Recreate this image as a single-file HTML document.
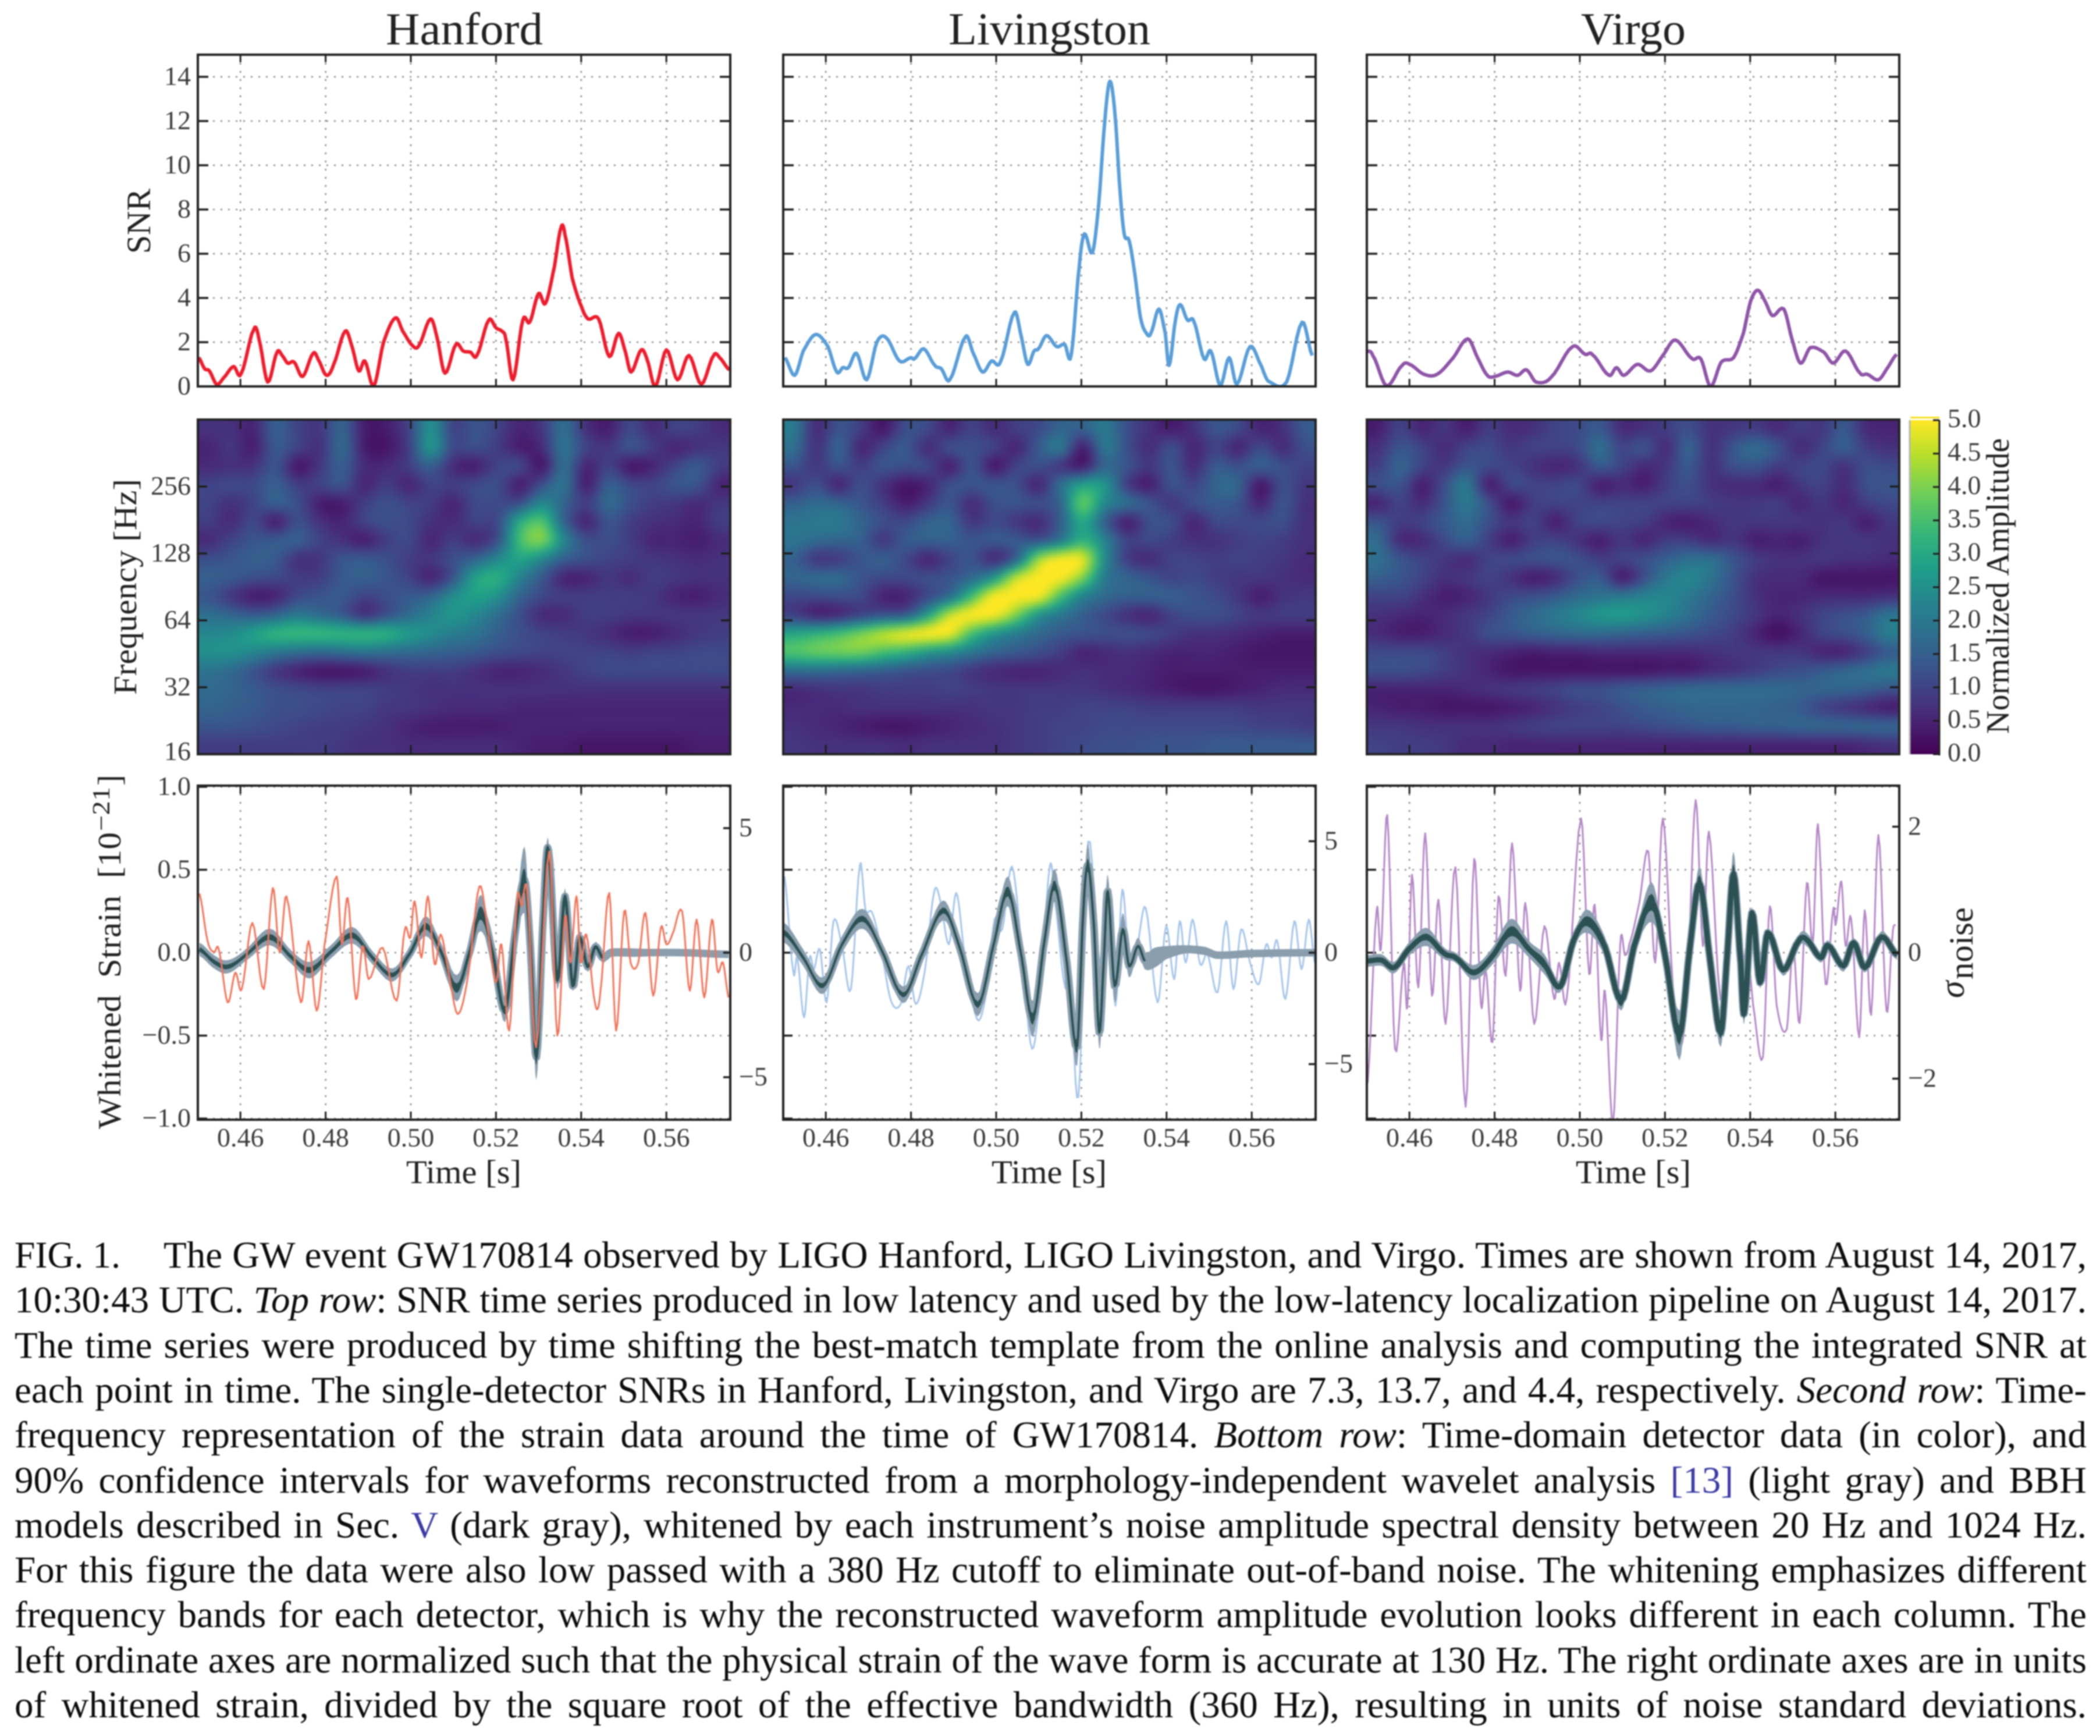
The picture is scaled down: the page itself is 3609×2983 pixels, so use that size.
<!DOCTYPE html>
<html lang="en">
<head>
<meta charset="utf-8">
<title>FIG. 1 GW170814</title>
<style>
html,body{margin:0;padding:0;background:#fff;}
svg{display:block;filter:blur(1px);}
text{font-family:"Liberation Serif","DejaVu Serif",serif;fill:#222;}
.cap{font-size:65px;fill:#0c0c0c;}
.tick{font-size:46px;fill:#3c3c3c;}
</style>
</head>
<body>
<svg id="figure" xmlns="http://www.w3.org/2000/svg" width="3609" height="2983" viewBox="0 0 3609 2983">
<defs>
<filter id="heat-blur" filterUnits="userSpaceOnUse" x="200" y="600" width="3200" height="800" color-interpolation-filters="sRGB"><feGaussianBlur stdDeviation="7 6"/></filter>
<linearGradient id="viridis-grad" x1="0" y1="1" x2="0" y2="0"></linearGradient>
</defs>
<rect x="0" y="0" width="3609" height="2983" fill="#fff"/>

<text x="663" y="76" font-size="78" textLength="270" lengthAdjust="spacingAndGlyphs">Hanford</text>
<text x="1630" y="76" font-size="78" textLength="347" lengthAdjust="spacingAndGlyphs">Livingston</text>
<text x="2717" y="76" font-size="78" textLength="180" lengthAdjust="spacingAndGlyphs">Virgo</text>

<text transform="translate(258,436) rotate(-90)" font-size="58" textLength="112" lengthAdjust="spacingAndGlyphs">SNR</text>
<text transform="translate(234,1194) rotate(-90)" font-size="56" textLength="371" lengthAdjust="spacingAndGlyphs">Frequency [Hz]</text>
<text transform="translate(207,1940) rotate(-90)" font-size="56" textLength="510" lengthAdjust="spacingAndGlyphs" style="word-spacing:14px">Whitened Strain [10</text>
<text transform="translate(188,1428) rotate(-90)" font-size="42" textLength="76" lengthAdjust="spacingAndGlyphs">−21</text>
<text transform="translate(207,1350) rotate(-90)" font-size="56">]</text>
<text transform="translate(3375,1715) rotate(-90)" font-size="60" font-style="italic">σ</text>
<text transform="translate(3390,1683) rotate(-90)" font-size="58" textLength="124" lengthAdjust="spacingAndGlyphs">noise</text>
<text transform="translate(3452,1261) rotate(-90)" font-size="56" textLength="508" lengthAdjust="spacingAndGlyphs">Normalized Amplitude</text>

<text x="698" y="2033" font-size="57" textLength="198" lengthAdjust="spacingAndGlyphs">Time [s]</text>
<text x="1704" y="2033" font-size="57" textLength="198" lengthAdjust="spacingAndGlyphs">Time [s]</text>
<text x="2708" y="2033" font-size="57" textLength="198" lengthAdjust="spacingAndGlyphs">Time [s]</text>

<g id="plots"></g>

<g>
<text class="cap" x="25" y="2178" textLength="182" lengthAdjust="spacingAndGlyphs">FIG. 1.</text>
<text class="cap just" x="281" y="2178" data-end="3586">The GW event GW170814 observed by LIGO Hanford, LIGO Livingston, and Virgo. Times are shown from August 14, 2017,</text>
<text class="cap just" x="25" y="2255" data-end="3586">10:30:43 UTC. <tspan font-style="italic">Top row</tspan>: SNR time series produced in low latency and used by the low-latency localization pipeline on August 14, 2017.</text>
<text class="cap just" x="25" y="2333" data-end="3586">The time series were produced by time shifting the best-match template from the online analysis and computing the integrated SNR at</text>
<text class="cap just" x="25" y="2410" data-end="3586">each point in time. The single-detector SNRs in Hanford, Livingston, and Virgo are 7.3, 13.7, and 4.4, respectively. <tspan font-style="italic">Second row</tspan>: Time-</text>
<text class="cap just" x="25" y="2487" data-end="3586">frequency representation of the strain data around the time of GW170814. <tspan font-style="italic">Bottom row</tspan>: Time-domain detector data (in color), and</text>
<text class="cap just" x="25" y="2565" data-end="3586">90% confidence intervals for waveforms reconstructed from a morphology-independent wavelet analysis <tspan fill="#3b3aa3">[13]</tspan> (light gray) and BBH</text>
<text class="cap just" x="25" y="2642" data-end="3586">models described in Sec. <tspan fill="#3b3aa3">V</tspan> (dark gray), whitened by each instrument’s noise amplitude spectral density between 20 Hz and 1024 Hz.</text>
<text class="cap just" x="25" y="2719" data-end="3586">For this figure the data were also low passed with a 380 Hz cutoff to eliminate out-of-band noise. The whitening emphasizes different</text>
<text class="cap just" x="25" y="2796" data-end="3586">frequency bands for each detector, which is why the reconstructed waveform amplitude evolution looks different in each column. The</text>
<text class="cap just" x="25" y="2874" data-end="3586">left ordinate axes are normalized such that the physical strain of the wave form is accurate at 130 Hz. The right ordinate axes are in units</text>
<text class="cap just" x="25" y="2951" data-end="3586">of whitened strain, divided by the square root of the effective bandwidth (360 Hz), resulting in units of noise standard deviations.</text>
</g>
</svg>

<script>
/* ---------- tick labels ---------- */
const timeTicks = [0.46, 0.48, 0.50, 0.52, 0.54, 0.56];
const timeTickLabels = ["0.46", "0.48", "0.50", "0.52", "0.54", "0.56"];
const snrTicks = [0, 2, 4, 6, 8, 10, 12, 14];
const freqTicks = [16, 32, 64, 128, 256];
const strainTicks = [-1, -0.5, 0, 0.5, 1];
const strainTickLabels = ["−1.0", "−0.5", "0.0", "0.5", "1.0"];
const hanfordNoiseTicks = [-5, 0, 5];
const livingstonNoiseTicks = [-5, 0, 5];
const virgoNoiseTicks = [-2, 0, 2];
const colorbarTicks = [0, 0.5, 1, 1.5, 2, 2.5, 3, 3.5, 4, 4.5, 5];
const colorbarTickLabels = ["0.0", "0.5", "1.0", "1.5", "2.0", "2.5", "3.0", "3.5", "4.0", "4.5", "5.0"];

/* ---------- SNR series ---------- */
const hanfordSnrTime = [.4502,.4516,.4527,.4544,.4561,.4584,.4601,.4632,.4644,.4664,.4686,.4698,.4711,.4726,.4746,.4771,.4783,.4802,.4819,.4846,.4862,.4878,.4892,.4913,.4936,.4964,.4981,.5004,.5019,.5046,.5061,.5080,.5106,.5123,.5140,.5155,.5183,.5200,.5214,.5223,.5240,.5263,.5279,.5300,.5316,.5337,.5353,.5362,.5379,.5401,.5416,.5441,.5466,.5488,.5504,.5517,.5541,.5555,.5574,.5600,.5626,.5653,.5682,.5711,.5725,.5748];
const hanfordSnr = [1.3,.8,.7,.1,.4,.9,.55,2.6,2.1,.2,1.55,1.4,1.05,1.1,.45,1.5,1.2,.5,1.0,2.5,1.8,.7,1.15,.02,2.0,3.1,2.5,1.85,1.85,3.05,2.25,.6,1.9,1.6,1.55,1.4,3.0,2.65,2.5,2.15,.3,3.0,2.9,4.2,3.75,5.4,7.2,6.85,4.9,3.6,3.05,3.05,1.35,2.4,1.55,.65,1.65,1.2,0,1.65,.3,1.4,.1,1.4,1.3,.75];
const livingstonSnrTime = [.4504,.4527,.4547,.4576,.4605,.4626,.4640,.4653,.4672,.4696,.4720,.4742,.4773,.4800,.4808,.4830,.4856,.4871,.4891,.4928,.4945,.4968,.4989,.5010,.5043,.5059,.5074,.5089,.5099,.5118,.5142,.5161,.5176,.5195,.5207,.5226,.5241,.5255,.5267,.5279,.5291,.5301,.5312,.5325,.5339,.5353,.5363,.5382,.5397,.5406,.5421,.5432,.5449,.5464,.5488,.5504,.5526,.5547,.5565,.5596,.5622,.5638,.5682,.5718,.5742];
const livingstonSnr = [1.3,.5,1.6,2.35,1.8,.65,.85,.85,1.5,.3,2.0,2.2,1.15,1.3,1.25,1.7,.95,.8,.3,2.25,1.55,.65,1.15,1.1,3.35,2.25,1.0,1.6,1.7,2.3,1.8,1.9,1.4,5.4,6.9,6.05,8.3,12.0,13.8,12.3,8.8,6.85,6.6,5.15,3.1,2.4,2.4,3.5,2.4,.95,3.0,3.7,3.0,2.95,1.25,1.6,.05,1.3,.1,1.8,.95,.25,.2,2.9,1.4];
const virgoSnrTime = [.4500,.4514,.4546,.4583,.4600,.4634,.4665,.4703,.4737,.4760,.4783,.4800,.4831,.4854,.4875,.4897,.4932,.4983,.5013,.5029,.5069,.5086,.5103,.5135,.5166,.5195,.5224,.5264,.5284,.5307,.5332,.5361,.5384,.5401,.5418,.5435,.5452,.5479,.5498,.5518,.5541,.5573,.5595,.5624,.5658,.5675,.5701,.5721,.5744];
const virgoSnr = [1.6,1.4,.03,.95,1.0,.55,.55,1.3,2.15,1.3,.5,.45,.65,.5,.75,.2,.4,1.8,1.45,1.45,.5,.85,.5,1.0,.7,1.4,2.1,1.25,1.25,0,1.1,1.3,2.4,3.85,4.35,3.85,3.2,3.5,2.15,1.05,1.75,1.55,1.05,1.6,.6,.55,.3,.8,1.45];

/* ---------- spectrogram amplitudes (rows: high to low frequency) ---------- */
const hanfordAmplitude = [
[.7,.7,.5,1.5,1.0,.8,1.6,.4,.4,1.0,2.5,1.0,1.3,1.0,.5,.8,1.8,.7,.4,1.1,.6,1.0,.9,.6],
[.5,.8,.4,1.4,1.0,.7,1.7,.4,.3,.9,2.6,1.1,1.2,.9,.4,.6,1.9,1.0,.8,1.3,.9,.5,.7,.8],
[.6,.7,.7,1.3,.3,.8,1.5,.6,.6,.9,1.5,.6,.4,1.0,1.1,.3,1.8,.5,1.0,.3,.5,1.0,1.4,.9],
[1.0,1.1,1.1,1.5,.9,1.0,1.3,.5,.9,.5,1.0,.9,1.1,1.2,.4,1.2,1.9,.4,1.5,1.1,1.0,1.3,1.3,.5],
[1.0,.7,1.0,1.5,1.2,.4,.4,.9,1.2,1.0,.9,.5,1.1,1.1,1.2,2.3,1.6,.9,1.7,1.2,.9,.8,.6,.8],
[.9,.6,1.1,.4,1.2,.7,.5,1.0,1.2,1.1,.7,.6,1.0,1.1,3.0,3.6,1.6,.5,1.3,.9,.7,.6,.5,.9],
[.6,1.0,1.3,1.4,1.5,1.0,.7,.4,.9,1.1,.5,.9,.6,1.2,3.4,4.0,2.3,1.2,1.2,.9,.5,.5,.4,.6],
[1.2,1.3,1.5,1.4,.7,.8,1.3,1.4,1.2,.9,.8,1.2,1.6,2.3,2.9,2.3,1.5,1.2,1.0,.9,.8,.7,.6,.7],
[1.5,1.4,1.2,1.1,.9,.9,1.4,1.5,1.3,1.0,.5,1.3,2.8,3.1,2.2,1.4,.5,.5,.8,.6,.9,.8,.7,.7],
[1.3,.8,.4,.5,1.1,1.3,1.4,1.0,1.2,1.4,1.6,2.4,2.8,2.5,1.6,1.1,.9,.9,.9,.9,.8,.5,.4,.6],
[1.8,1.6,1.4,1.6,2.0,1.7,1.4,.7,1.2,1.7,2.2,2.6,2.3,1.8,1.2,.6,.6,.9,.9,.8,.8,.8,.8,.8],
[2.3,2.4,2.8,3.2,3.3,3.3,3.2,3.2,3.1,2.7,2.4,2.1,1.9,1.5,1.2,1.0,.9,.8,.6,.4,.4,.6,.8,.9],
[2.5,2.5,2.3,2.0,1.8,1.7,1.8,1.9,1.8,1.7,1.6,1.5,1.4,1.2,1.1,1.0,1.0,1.0,1.0,.9,1.0,1.0,1.1,1.1],
[1.9,1.7,1.3,.8,.5,.3,.3,.4,.7,.9,.9,.9,.7,.5,.5,.6,.8,1.0,1.1,1.1,1.1,1.1,1.1,1.1],
[1.7,1.6,1.4,1.2,1.1,1.0,1.0,1.0,.9,.8,.7,.7,.7,.7,.7,.7,.7,.7,.7,.7,.7,.7,.7,.7],
[1.6,1.5,1.4,1.2,1.2,1.1,1.0,1.0,.8,.8,.7,.6,.6,.6,.5,.5,.5,.5,.5,.5,.5,.5,.5,.5],
[1.3,1.3,1.2,1.1,1.0,.9,.9,.8,.7,.5,.4,.4,.4,.4,.5,.5,.5,.5,.5,.5,.5,.5,.5,.5],
[.9,.9,.9,.9,.9,.9,.8,.7,.7,.6,.6,.6,.6,.6,.5,.4,.4,.3,.3,.3,.3,.3,.4,.4]
];
const livingstonAmplitude = [
[2.0,.6,1.3,.9,.3,1.2,1.1,.5,1.0,.6,.9,1.1,1.6,1.5,2.0,1.2,.7,.4,.7,1.3,1.1,.5,.7,1.4],
[1.8,.7,1.6,.5,1.0,1.4,.6,1.2,1.2,1.0,.5,1.4,2.0,.4,2.0,1.2,.6,1.2,.5,1.0,.5,1.1,.6,1.2],
[1.3,.8,1.3,.9,1.3,1.2,1.1,.4,1.3,.3,1.0,1.2,.8,.4,1.6,1.3,.8,1.3,.6,1.4,1.2,1.5,1.2,1.0],
[.8,1.2,.5,1.2,.7,.3,.5,1.2,1.3,1.3,1.2,.5,1.8,2.8,2.6,.9,.4,1.3,1.0,1.6,1.6,.3,1.2,.8],
[1.5,1.7,1.6,1.3,.9,.4,.8,1.3,.6,1.2,1.3,1.2,1.6,3.8,2.3,1.8,1.3,.8,1.2,1.4,1.3,.5,1.3,.7],
[1.9,2.0,2.0,1.6,1.2,1.1,1.5,1.6,.8,1.1,.8,.6,1.5,3.0,1.5,.4,1.2,1.2,.5,1.1,1.1,1.1,1.2,.7],
[1.9,1.7,1.6,1.5,.8,1.4,1.5,1.5,1.3,1.4,1.4,1.3,2.0,3.2,2.2,1.0,1.1,.9,.7,.7,.9,1.0,.9,.7],
[1.5,.8,.9,1.3,1.5,1.1,.5,1.0,1.3,.6,1.6,4.2,5.0,4.8,2.4,.9,.6,1.0,1.0,.9,1.0,.9,.8,.6],
[1.6,1.7,1.7,1.3,1.1,1.1,1.2,1.3,1.7,2.6,4.5,5.0,5.0,4.0,2.0,1.6,1.3,1.0,1.1,.9,.8,.8,.7,.6],
[1.1,1.1,1.2,1.1,.5,.5,1.1,1.8,3.4,5.0,5.0,5.0,3.5,2.2,1.7,1.5,1.5,1.5,1.3,1.1,.8,.4,.7,.8],
[.9,.5,.6,1.0,1.3,1.4,2.7,4.5,5.0,5.0,4.0,2.6,2.0,1.5,1.1,.7,.5,1.0,1.2,1.2,1.0,.8,.9,.9],
[2.9,3.1,3.4,3.9,4.4,4.8,5.0,4.9,3.5,2.6,2.1,1.7,1.4,1.3,1.2,1.2,1.1,.9,.7,.7,.6,.5,.4,.4],
[3.6,3.8,3.9,3.9,3.5,3.2,2.7,2.4,2.0,1.6,1.4,1.2,.9,.5,.6,.7,.6,.5,.5,.5,.4,.3,.3,.3],
[1.8,1.8,1.7,1.6,1.5,1.3,1.2,1.1,.8,.6,.5,.5,.6,.7,.6,.6,.5,.4,.4,.4,.4,.4,.4,.4],
[.6,.7,.8,.8,.9,.9,.9,1.0,.9,.8,.8,.8,.8,.8,.7,.6,.5,.4,.3,.3,.4,.5,.6,.6],
[.6,.6,.6,.7,.7,.7,.7,.7,.7,.8,.8,.9,.9,1.0,1.0,1.0,.9,.9,.9,.9,.9,.8,.8,.8],
[.7,.6,.5,.4,.3,.3,.4,.5,.6,.7,.8,.9,1.0,1.0,1.1,1.1,1.1,1.1,1.1,1.1,1.1,1.0,1.0,.9],
[.8,.7,.7,.7,.7,.6,.7,.7,.7,.7,.8,.9,1.0,1.1,1.2,1.2,1.3,1.3,1.3,1.4,1.4,1.4,1.4,1.4]
];
const virgoAmplitude = [
[.4,1.0,.5,.8,.4,.9,.6,.7,1.0,1.1,1.4,.6,.7,.9,1.2,.7,.8,.9,.6,.9,.8,1.4,.6,.5],
[.7,1.3,1.0,.6,1.0,1.1,.8,1.0,1.0,1.1,1.8,1.0,1.3,.6,1.6,.7,1.3,1.7,1.3,.6,1.0,1.5,.9,.7],
[.9,1.6,1.0,.8,1.3,1.1,1.0,.7,.5,.7,1.4,1.0,.6,.8,1.4,.7,1.2,1.3,.9,1.0,1.1,.7,1.2,1.1],
[1.2,1.3,.4,1.2,2.0,.4,1.1,1.0,1.0,1.1,.4,.6,.4,.9,1.2,.7,.6,.6,.4,.8,1.0,.6,1.2,1.3],
[.5,1.0,.6,1.3,2.0,1.2,.3,.9,1.0,1.0,1.0,1.0,1.0,1.0,1.0,.9,.8,.8,.9,.5,.8,.5,.9,1.1],
[1.3,.9,1.0,1.4,1.7,1.2,.8,1.0,.4,1.0,1.1,1.0,.9,.5,.4,.6,.8,.8,.8,.8,.7,.8,.4,.8],
[1.7,.6,.6,1.1,1.5,.9,.4,.9,1.0,.7,.4,.8,.5,.9,.9,.6,.8,.4,.5,.4,.7,.8,.8,.7],
[1.8,1.3,1.0,.8,.6,1.0,1.1,1.2,1.3,1.2,.9,1.0,1.2,1.5,1.8,1.8,1.3,.9,.7,.7,.8,.7,.7,.6],
[1.5,1.3,1.0,.7,.8,1.0,.7,.4,.6,1.2,1.4,.4,1.2,2.0,2.3,1.9,1.3,.7,.6,.6,.3,.3,.3,.3],
[1.0,1.0,.7,.4,.5,.8,1.1,1.2,1.4,1.7,1.9,2.0,2.2,2.3,2.0,1.6,1.2,.7,.5,.5,.6,.6,.6,.7],
[.7,.6,.5,.6,.8,1.0,1.4,1.7,2.0,2.3,2.6,2.7,2.5,2.2,1.8,1.4,1.1,.8,.5,.7,1.0,1.2,1.4,1.9],
[.6,.4,.4,.6,.8,1.2,1.3,1.5,1.6,1.7,1.7,1.6,1.5,1.4,1.3,1.1,.9,.5,.2,.5,1.0,1.2,1.5,2.1],
[1.1,1.1,1.1,.9,.7,.6,.5,.4,.5,.5,.6,.6,.6,.6,.6,.7,.8,.8,.8,.8,.5,.5,.9,1.4],
[1.2,1.2,1.1,.9,.7,.5,.3,.3,.3,.3,.3,.3,.3,.4,.4,.6,.7,.9,1.1,1.2,1.4,1.6,1.8,2.0],
[.5,.5,.5,.5,.6,.7,.8,.9,1.0,1.2,1.2,1.4,1.5,1.6,1.7,1.7,1.7,1.7,1.7,1.6,1.6,1.6,1.5,1.3],
[.5,.4,.4,.3,.3,.3,.4,.5,.7,.9,1.0,1.2,1.4,1.5,1.6,1.6,1.6,1.6,1.5,1.4,1.0,.8,.6,.4],
[.8,.8,.7,.7,.7,.7,.8,.9,1.0,1.0,1.0,1.0,1.1,1.2,1.3,1.4,1.4,1.5,1.5,1.6,1.6,1.6,1.6,1.6],
[1.0,.9,.9,.8,.6,.6,.5,.5,.5,.5,.5,.5,.5,.5,.5,.5,.5,.5,.5,.5,.5,.5,.6,.7]
];

/* ---------- whitened detector data ---------- */
const hanfordDataTime = [.4504,.4523,.4538,.4549,.4570,.4588,.4603,.4628,.4655,.4676,.4692,.4708,.4742,.4760,.4779,.4797,.4826,.4838,.4852,.4871,.4887,.4901,.4934,.4967,.4986,.4999,.5009,.5025,.5040,.5056,.5070,.5087,.5110,.5135,.5161,.5182,.5200,.5213,.5231,.5250,.5260,.5273,.5294,.5325,.5344,.5362,.5375,.5389,.5399,.5412,.5433,.5445,.5466,.5482,.5501,.5516,.5534,.5551,.5569,.5587,.5600,.5614,.5637,.5655,.5671,.5689,.5707,.5720,.5733,.5746];
const hanfordData = [.356,.07,.003,.02,-.30,-.12,-.22,.18,-.22,.39,0,.34,-.30,.07,-.35,.04,.46,.05,.33,-.28,.04,-.16,.03,-.29,.14,.09,.31,-.03,.34,-.07,.11,-.10,-.37,-.13,.40,.12,-.18,.05,-.47,.32,.28,.37,-.57,.61,-.50,.22,-.06,.34,-.06,.11,-.31,-.24,.36,-.47,.25,-.06,-.06,.24,-.26,.15,.05,.11,.25,-.23,.20,-.27,.20,-.11,-.06,-.27];
const livingstonDataTime = [.4503,.4524,.4533,.4549,.4562,.4572,.4586,.4602,.4618,.4638,.4659,.4680,.4693,.4709,.4730,.4753,.4776,.4794,.4811,.4833,.4854,.4868,.4889,.4906,.4923,.4955,.4978,.4996,.5014,.5037,.5060,.5084,.5106,.5126,.5138,.5161,.5173,.5193,.5216,.5243,.5262,.5280,.5296,.5312,.5331,.5351,.5379,.5399,.5418,.5431,.5445,.5461,.5479,.5496,.5520,.5540,.5557,.5575,.5596,.5617,.5634,.5647,.5660,.5679,.5700,.5717,.5734,.5748];
const livingstonData = [.46,-.12,-.03,-.39,-.03,-.10,.02,-.30,.19,.04,-.22,.53,.26,.24,.02,-.29,-.31,-.08,-.31,-.10,.36,.32,.05,.36,.04,-.40,-.23,.20,.14,.52,.02,-.58,-.16,.52,.31,-.20,-.16,-.87,.67,-.06,.41,-.32,.38,-.06,.04,.27,-.30,.16,-.16,.19,-.06,.20,-.07,-.01,-.24,.19,-.22,.14,-.06,-.19,.05,-.03,.07,-.28,.19,-.10,.20,-.06];
const virgoDataTime = [.4502,.4523,.4533,.4548,.4566,.4587,.4595,.4606,.4621,.4637,.4653,.4668,.4685,.4708,.4732,.4752,.4768,.4779,.4795,.4809,.4826,.4841,.4860,.4872,.4893,.4917,.4940,.4951,.4969,.5003,.5022,.5035,.5050,.5059,.5078,.5095,.5106,.5116,.5140,.5161,.5177,.5195,.5218,.5235,.5252,.5272,.5289,.5303,.5328,.5341,.5362,.5378,.5392,.5407,.5430,.5446,.5462,.5486,.5501,.5516,.5533,.5547,.5559,.5577,.5595,.5601,.5614,.5624,.5637,.5656,.5669,.5684,.5701,.5720,.5734,.5741];
const virgoData = [-.785,.255,.02,.83,-.58,-.06,-.33,.47,-.21,.72,-.26,.32,-.43,.515,-.93,.565,-.315,-.10,-.54,.34,-.14,.66,-.23,.30,-.43,.16,-.28,-.06,-.28,.81,-.13,.29,-.525,-.23,-1.03,.05,-.015,.05,.305,.61,-.06,.81,-.18,-.57,-.23,.92,.04,.73,-.23,-.16,.305,-.20,.04,-.315,-.63,.28,-.315,-.46,.04,-.425,.42,.05,.775,-.19,.26,.17,.43,.04,.205,-.51,.255,-.375,.71,-.35,.10,.17];

/* ---------- reconstructed waveforms ---------- */
const hanfordWaveTime = [.4504,.4538,.4570,.4612,.4669,.4721,.4763,.4810,.4863,.4910,.4957,.4999,.5035,.5072,.5108,.5140,.5164,.5192,.5221,.5244,.5267,.5281,.5295,.5312,.5323,.5344,.5362,.5380,.5396,.5415,.5433,.5450,.5469,.5532,.5637,.5746];
const hanfordWave = [.02,-.055,-.085,-.015,.095,-.03,-.105,0,.105,-.03,-.135,0,.16,0,-.215,.02,.24,0,-.35,.10,.44,.02,-.63,.27,.62,-.165,.34,-.20,.09,-.085,.035,-.03,0,0,0,-.01];
const hanfordWaveSpread = [.04,.04,.04,.035,.05,.04,.05,.04,.05,.04,.04,.04,.06,.05,.08,.06,.11,.06,.07,.06,.20,.06,.14,.08,.06,.06,.05,.03,.04,.03,.03,.03,.025,.025,.015,.015];
const hanfordBbhSpread = [.014,.014,.014,.012,.018,.014,.018,.014,.018,.014,.014,.014,.02,.018,.028,.02,.04,.02,.025,.02,.07,.02,.05,.03,.02,.02,.018,.01,.014,.01,.01,.01,0,0,0,0];
const livingstonWaveTime = [.4503,.4547,.4593,.4638,.4686,.4730,.4781,.4822,.4875,.4913,.4957,.4996,.5028,.5060,.5086,.5115,.5138,.5166,.5190,.5205,.5216,.5230,.5242,.5253,.5262,.5278,.5297,.5312,.5333,.5349,.5372,.5399,.5445,.5491,.5518,.5600,.5748];
const livingstonWave = [.12,-.03,-.20,.05,.205,.02,-.255,-.03,.255,.04,-.315,.07,.37,-.03,-.40,.10,.405,-.06,-.565,.27,.525,.14,-.48,-.03,.37,-.20,.14,-.08,.04,-.05,-.03,0,.02,.01,-.015,-.005,0];
const livingstonWaveSpread = [.06,.05,.05,.05,.06,.05,.05,.05,.06,.05,.07,.06,.09,.06,.11,.06,.10,.06,.12,.06,.13,.05,.10,.12,.10,.10,.10,.07,.05,.05,.06,.04,.025,.025,.02,.02,.02];
const livingstonBbhSpread = [.018,.015,.015,.015,.018,.015,.015,.015,.018,.015,.02,.018,.03,.018,.035,.018,.03,.018,.04,.018,.04,.015,.015,.012,.015,.012,.012,.01,.008,.006,0,0,0,0,0,0,0];
const virgoWaveTime = [.4502,.4535,.4564,.4598,.4640,.4682,.4708,.4750,.4792,.4839,.4881,.4917,.4954,.4985,.5017,.5059,.5097,.5127,.5169,.5200,.5234,.5258,.5281,.5305,.5331,.5347,.5361,.5378,.5386,.5404,.5423,.5441,.5477,.5514,.5532,.5566,.5582,.5619,.5643,.5669,.5708,.5745];
const virgoWave = [-.05,-.045,-.09,.02,.095,-.005,-.03,-.12,-.03,.13,.02,-.07,-.205,.07,.19,.035,-.29,.035,.305,-.015,-.50,.02,.42,-.03,-.485,.02,.475,-.065,-.365,.24,-.18,.12,-.105,.07,.08,-.03,.045,-.08,.06,-.09,.095,-.015];
const virgoWaveSpread = [.035,.035,.035,.04,.055,.035,.03,.045,.05,.075,.05,.06,.035,.04,.07,.06,.06,.04,.12,.05,.15,.05,.10,.06,.085,.05,.135,.06,.06,.035,.035,.03,.035,.035,.04,.03,.03,.035,.03,.03,.035,.03];
const virgoBbhSpread = [.012,.012,.012,.015,.02,.015,.012,.018,.02,.03,.02,.03,.015,.02,.03,.04,.035,.02,.05,.02,.06,.02,.05,.02,.035,.02,.06,.02,.03,.022,.022,.015,.015,.015,.015,.012,.012,.015,.012,.012,.015,.012];

/* ---------- layout and axes ---------- */
const NS = "http://www.w3.org/2000/svg";
const plots = document.getElementById("plots");
const panelX = [340, 1346, 2349];
const panelW = 915;
const snrBox = {top: 94, bottom: 664};
const heatBox = {top: 721, bottom: 1296};
const strainBox = {top: 1350, bottom: 1924};
const noisePxPerUnit = [42.8, 38.3, 108.25];
const detectors = ["hanford", "livingston", "virgo"];

function xAxis(col, t) { return panelX[col] + (t - 0.45) / 0.125 * panelW; }
function ySnr(v) { return 664 - v * 38; }
function yFreq(f) { return 1296 - Math.log2(f / 16) * 115; }
function yStrain(h) { return 1637 - h * 285; }
function yNoise(col, n) { return 1637 - n * noisePxPerUnit[col]; }
function yColorbar(v) { return 1296 - v * 114.8; }

function viridis(v) {
  const stops = [[68,1,84],[72,40,120],[62,74,137],[49,104,142],[38,130,142],[31,158,137],[53,183,121],[109,205,89],[180,222,44],[253,231,37]];
  const p = Math.max(0, Math.min(1, v / 5)) * (stops.length - 1);
  const i = Math.min(stops.length - 2, Math.floor(p));
  const f = p - i;
  const c = [0, 1, 2].map(k => Math.round(stops[i][k] + (stops[i + 1][k] - stops[i][k]) * f));
  return "rgb(" + c.join(",") + ")";
}
function make(parent, tag, attrs) {
  const el = document.createElementNS(NS, tag);
  for (const k in attrs) el.setAttribute(k, attrs[k]);
  parent.appendChild(el);
  return el;
}
function crWeight(a, b, c, d, u) {
  const u2 = u * u, u3 = u2 * u;
  return 0.5 * (2 * b + (c - a) * u + (2 * a - 5 * b + 4 * c - d) * u2 + (3 * b - a - 3 * c + d) * u3);
}
/* Catmull-Rom resampling used only to draw a smooth stroke through the read values */
function smooth(ts, vs, sub) {
  const out = [];
  for (let i = 0; i < ts.length - 1; i++) {
    const i0 = Math.max(0, i - 1), i3 = Math.min(ts.length - 1, i + 2);
    for (let s = 0; s < sub; s++) {
      out.push(crWeight(vs[i0], vs[i], vs[i + 1], vs[i3], s / sub));
    }
  }
  out.push(vs[vs.length - 1]);
  return out;
}
function smoothTimes(ts, sub) {
  const out = [];
  for (let i = 0; i < ts.length - 1; i++) {
    for (let s = 0; s < sub; s++) out.push(ts[i] + (ts[i + 1] - ts[i]) * s / sub);
  }
  out.push(ts[ts.length - 1]);
  return out;
}
/* display-time resampling of a grid so cells read as a continuous image */
function gridSample(grid, rp, cp) {
  const R = grid.length, C = grid[0].length;
  const cl = (v, m) => Math.max(0, Math.min(m - 1, v));
  const r = Math.floor(rp), c = Math.floor(cp), fr = rp - r, fc = cp - c;
  const col = [];
  for (let i = -1; i <= 2; i++) {
    const row = grid[cl(r + i, R)];
    col.push(crWeight(row[cl(c - 1, C)], row[cl(c, C)], row[cl(c + 1, C)], row[cl(c + 2, C)], fc));
  }
  return crWeight(col[0], col[1], col[2], col[3], fr);
}
function linePoints(col, ts, vs, yFn) {
  const st = smoothTimes(ts, 6), sv = smooth(ts, vs, 6);
  return st.map((t, i) => xAxis(col, t).toFixed(1) + "," + yFn(sv[i]).toFixed(1)).join(" ");
}
function bandPoints(col, ts, center, spread, yFn) {
  const st = smoothTimes(ts, 6), sc = smooth(ts, center, 6), ss = smooth(ts, spread, 6);
  const up = st.map((t, i) => xAxis(col, t).toFixed(1) + "," + yFn(sc[i] + Math.max(0, ss[i])).toFixed(1));
  const down = st.map((t, i) => xAxis(col, t).toFixed(1) + "," + yFn(sc[i] - Math.max(0, ss[i])).toFixed(1)).reverse();
  return up.concat(down).join(" ");
}
function gridAndTicks(parent, col, box, yValues, yFn, showGrid, xLen, yLen, rightLen) {
  const left = panelX[col], right = left + panelW;
  timeTicks.forEach(t => {
    const x = xAxis(col, t);
    if (showGrid) {
      const g = make(parent, "line", {x1: x, x2: x, y1: box.top, y2: box.bottom, stroke: "#8a8a8a", "stroke-width": 2.6, "stroke-dasharray": "3 11"});
      
      
    }
    [[box.top, box.top + xLen], [box.bottom - xLen, box.bottom]].forEach(p => {
      const m = make(parent, "line", {x1: x, x2: x, y1: p[0], y2: p[1], stroke: "#1e1e1e", "stroke-width": 3});
      
      
    });
  });
  yValues.forEach(v => {
    const y = yFn(v);
    if (showGrid) {
      const g = make(parent, "line", {x1: left, x2: right, y1: y, y2: y, stroke: "#8a8a8a", "stroke-width": 2.6, "stroke-dasharray": "3 10"});
      
      
    }
    const a = make(parent, "line", {x1: left, x2: left + yLen, y1: y, y2: y, stroke: "#1e1e1e", "stroke-width": 3.4});
    
    
    if (rightLen) {
      const b = make(parent, "line", {x1: right - rightLen, x2: right, y1: y, y2: y, stroke: "#1e1e1e", "stroke-width": 3.4});
      
      
    }
  });
}
function frame(parent, col, box, name) {
  const r = make(parent, "rect", {x: panelX[col], y: box.top, width: panelW, height: box.bottom - box.top, fill: "none", stroke: "#222", "stroke-width": 4});
  
  
}
function clipFor(id, col, box) {
  const defs = document.querySelector("#figure defs");
  const c = make(defs, "clipPath", {id: id});
  make(c, "rect", {x: panelX[col], y: box.top, width: panelW, height: box.bottom - box.top});
}
function label(parent, x, y, txt, anchor, name) {
  const t = make(parent, "text", {x: x, y: y, "text-anchor": anchor, "class": "tick"});
  
  
  t.textContent = txt;
  return t;
}

/* ---------- top row: SNR ---------- */
const snrSeries = [
  {t: hanfordSnrTime, v: hanfordSnr, color: "#ec1e2e"},
  {t: livingstonSnrTime, v: livingstonSnr, color: "#5a9ed8"},
  {t: virgoSnrTime, v: virgoSnr, color: "#8f55a8"}
];
snrSeries.forEach((s, col) => {
  const g = make(plots, "g", {});
  
  
  clipFor("clip-snr-" + col, col, snrBox);
  gridAndTicks(g, col, snrBox, snrTicks.filter(v => v > 0), ySnr, true, 13, 18, 18);
  const line = make(g, "polyline", {points: linePoints(col, s.t, s.v, ySnr), fill: "none", stroke: s.color, "stroke-width": 6, "stroke-linejoin": "round", "clip-path": "url(#clip-snr-" + col + ")"});
  
  
  frame(g, col, snrBox, detectors[col] + '-snr-frame');
  if (col === 0) snrTicks.forEach(v => label(g, 328, ySnr(v) + 14, String(v), "end", "snr-tick-label"));
});

/* ---------- middle row: spectrograms ---------- */
const heatSeries = [hanfordAmplitude, livingstonAmplitude, virgoAmplitude];
heatSeries.forEach((grid, col) => {
  const g = make(plots, "g", {});
  
  
  clipFor("clip-heat-" + col, col, heatBox);
  const clipped = make(g, "g", {"clip-path": "url(#clip-heat-" + col + ")"});
  const blurred = make(clipped, "g", {filter: "url(#heat-blur)", "shape-rendering": "crispEdges"});
  const rows = grid.length, cols = grid[0].length;
  const sub = 3;
  const cw = panelW / cols / sub, ch = (heatBox.bottom - heatBox.top) / rows / sub;
  const pad = 30;
  for (let r = 0; r < rows * sub; r++) {
    for (let c = 0; c < cols * sub; c++) {
      const val = gridSample(grid, (r + 0.5) / sub - 0.5, (c + 0.5) / sub - 0.5);
      let x = panelX[col] + c * cw, y = heatBox.top + r * ch, w = cw + 1, h = ch + 1;
      if (c === 0) { x -= pad; w += pad; }
      if (c === cols * sub - 1) { w += pad; }
      if (r === 0) { y -= pad; h += pad; }
      if (r === rows * sub - 1) { h += pad; }
      const cell = make(blurred, "rect", {x: x.toFixed(1), y: y.toFixed(1), width: w.toFixed(1), height: h.toFixed(1), fill: viridis(val)});
      
      
    }
  }
  gridAndTicks(g, col, heatBox, freqTicks.filter(f => f > 16), yFreq, false, 16, 16, 16);
  frame(g, col, heatBox, detectors[col] + '-spectrogram-frame');
  if (col === 0) freqTicks.forEach(f => label(g, 328, yFreq(f) + (f === 16 ? 10 : 14), String(f), "end", "frequency-tick-label"));
});

/* ---------- colorbar ---------- */
(function () {
  const g = make(plots, "g", {});
  
  
  const grad = document.getElementById("viridis-grad");
  for (let i = 0; i <= 20; i++) {
    make(grad, "stop", {offset: (i / 20).toFixed(2), "stop-color": viridis(i / 4)});
  }
  const barTop = yColorbar(5), barBottom = yColorbar(0);
  const cap = make(g, "rect", {x: 3283, y: barTop - 6, width: 50, height: 3, fill: "#f3df18"});
  
  
  const bar = make(g, "rect", {x: 3283, y: barTop, width: 50, height: barBottom - barTop, fill: "url(#viridis-grad)"});
  
  
  const edge = make(g, "line", {x1: 3282, x2: 3282, y1: barTop, y2: barBottom, stroke: "#b5b5b5", "stroke-width": 3});
  
  
  const edge2 = make(g, "line", {x1: 3333, x2: 3333, y1: barTop, y2: barBottom + 2, stroke: "#222", "stroke-width": 3});
  
  
  colorbarTicks.forEach((v, i) => {
    const y = yColorbar(v);
    const m = make(g, "line", {x1: 3322, x2: 3333, y1: y, y2: y, stroke: "#1e1e1e", "stroke-width": 3});
    
    
    label(g, 3347, y + 12, colorbarTickLabels[i], "start", "colorbar-tick-label");
  });
})();

/* ---------- bottom row: whitened strain ---------- */
const strainSeries = [
  {dt: hanfordDataTime, d: hanfordData, wt: hanfordWaveTime, w: hanfordWave, ws: hanfordWaveSpread, bs: hanfordBbhSpread, thin: "#f0745a", onTop: true, noise: hanfordNoiseTicks, bbhWidth: 5},
  {dt: livingstonDataTime, d: livingstonData, wt: livingstonWaveTime, w: livingstonWave, ws: livingstonWaveSpread, bs: livingstonBbhSpread, thin: "#a5c6ea", onTop: false, noise: livingstonNoiseTicks, bbhWidth: 4},
  {dt: virgoDataTime, d: virgoData, wt: virgoWaveTime, w: virgoWave, ws: virgoWaveSpread, bs: virgoBbhSpread, thin: "#b488c8", onTop: false, noise: virgoNoiseTicks, bbhWidth: 9}
];
strainSeries.forEach((s, col) => {
  const g = make(plots, "g", {});
  
  
  clipFor("clip-strain-" + col, col, strainBox);
  gridAndTicks(g, col, strainBox, strainTicks, yStrain, true, 14, 16, 0);
  const clip = make(g, "g", {"clip-path": "url(#clip-strain-" + col + ")"});
  const thinLine = () => {
    const l = make(clip, "polyline", {points: linePoints(col, s.dt, s.d, yStrain), fill: "none", stroke: s.thin, "stroke-width": 3, "stroke-linejoin": "round"});
    
    
  };
  if (!s.onTop) thinLine();
  const lightCenter = make(clip, "polyline", {points: linePoints(col, s.wt, s.w, yStrain), fill: "none", stroke: "#8a9eae", "stroke-width": 13, "stroke-linejoin": "round"});
  
  
  const light = make(clip, "polygon", {points: bandPoints(col, s.wt, s.w, s.ws, yStrain), fill: "#8a9eae"});
  
  
  let last = s.bs.length - 1;
  while (last > 0 && s.bs[last] === 0) last--;
  const bt = s.wt.slice(0, last + 1), bw = s.w.slice(0, last + 1), bsp = s.bs.slice(0, last + 1);
  const darkCenter = make(clip, "polyline", {points: linePoints(col, bt, bw, yStrain), fill: "none", stroke: "#2b5153", "stroke-width": s.bbhWidth, "stroke-linejoin": "round"});
  
  
  const dark = make(clip, "polygon", {points: bandPoints(col, bt, bw, bsp, yStrain), fill: "#2b5153"});
  
  
  if (s.onTop) thinLine();
  s.noise.forEach(n => {
    const y = yNoise(col, n), right = panelX[col] + panelW;
    const m = make(g, "line", {x1: right - 12, x2: right, y1: y, y2: y, stroke: "#1e1e1e", "stroke-width": 3.4});
    
    
    label(g, right + 15, y + 14, String(n).replace("-", "−"), "start", "noise-tick-label");
  });
  frame(g, col, strainBox, detectors[col] + '-strain-frame');
  timeTicks.forEach((t, i) => label(g, xAxis(col, t), 1970, timeTickLabels[i], "middle", "time-tick-label"));
  if (col === 0) strainTicks.forEach((h, i) => label(g, 328, yStrain(h) + 14, strainTickLabels[i], "end", "strain-tick-label"));
});

/* ---------- caption justification ---------- */
document.querySelectorAll(".just").forEach(el => {
  const target = Number(el.getAttribute("data-end")) - Number(el.getAttribute("x"));
  const natural = el.getComputedTextLength();
  const spaces = (el.textContent.match(/ /g) || []).length;
  el.style.wordSpacing = ((target - natural) / spaces).toFixed(3) + "px";
});
</script>
</body>
</html>
